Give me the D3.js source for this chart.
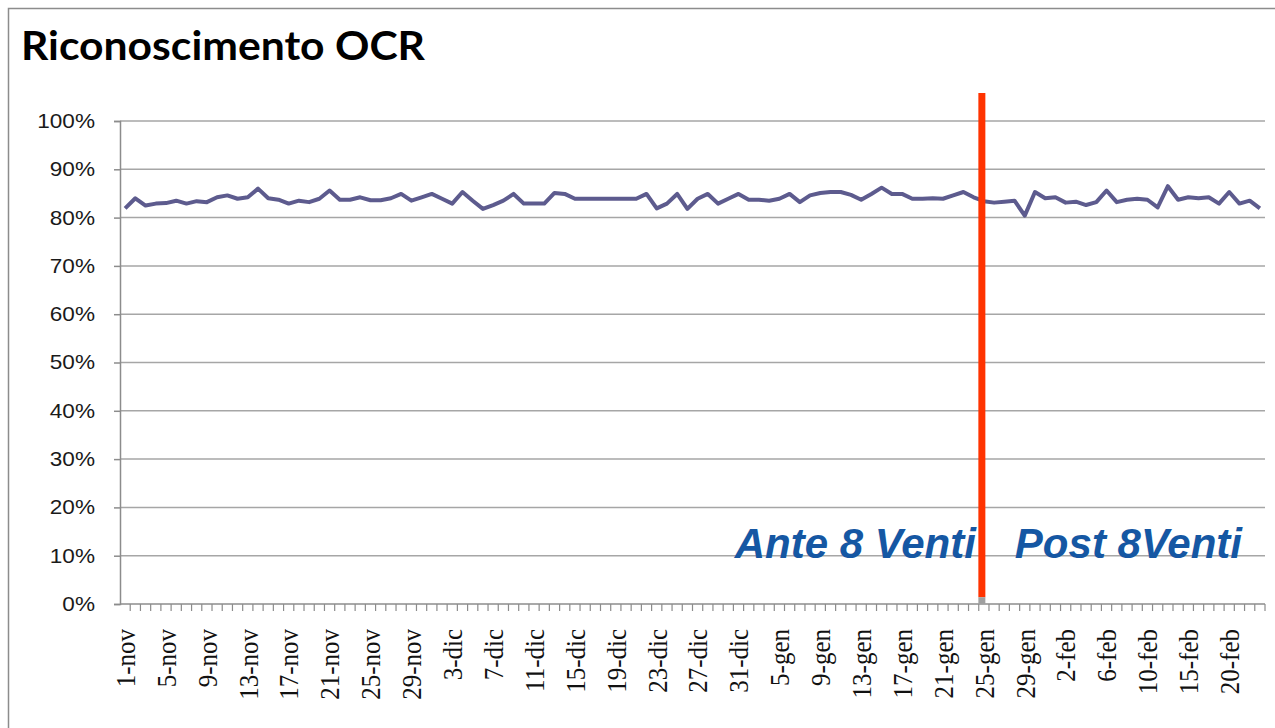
<!DOCTYPE html>
<html>
<head>
<meta charset="utf-8">
<script src="https://cdn.jsdelivr.net/npm/d3@7"></script>
<style>
  body { margin: 0; background: #fff; }
  svg { display: block; }
</style>
</head>
<body>
<svg id="chart"></svg>
<script>
// dates on the x axis (one per data point)
const categories = [
  "1-nov","2-nov","3-nov","4-nov","5-nov","6-nov","7-nov","8-nov","9-nov","10-nov",
  "11-nov","12-nov","13-nov","14-nov","15-nov","16-nov","17-nov","18-nov","19-nov","20-nov",
  "21-nov","22-nov","23-nov","24-nov","25-nov","26-nov","27-nov","28-nov","29-nov","30-nov",
  "1-dic","2-dic","3-dic","4-dic","5-dic","6-dic","7-dic","8-dic","9-dic","10-dic",
  "11-dic","12-dic","13-dic","14-dic","15-dic","16-dic","17-dic","18-dic","19-dic","20-dic",
  "21-dic","22-dic","23-dic","24-dic","25-dic","26-dic","27-dic","28-dic","29-dic","30-dic",
  "31-dic","2-gen","3-gen","4-gen","5-gen","6-gen","7-gen","8-gen","9-gen","10-gen",
  "11-gen","12-gen","13-gen","14-gen","15-gen","16-gen","17-gen","18-gen","19-gen","20-gen",
  "21-gen","22-gen","23-gen","24-gen","25-gen","26-gen","27-gen","28-gen","29-gen","30-gen",
  "31-gen","1-feb","2-feb","3-feb","4-feb","5-feb","6-feb","7-feb","8-feb","9-feb",
  "10-feb","11-feb","12-feb","14-feb","15-feb","16-feb","18-feb","19-feb","20-feb","21-feb",
  "22-feb","23-feb"
];

// OCR recognition rate, percent
const values = [
  81.9, 84.0, 82.5, 82.9, 83.0, 83.5, 82.9, 83.4, 83.2, 84.2,
  84.6, 83.9, 84.2, 86.0, 84.0, 83.7, 82.9, 83.5, 83.2, 83.9,
  85.6, 83.7, 83.7, 84.2, 83.6, 83.6, 84.0, 84.9, 83.5, 84.2,
  84.9, 83.9, 82.9, 85.3, 83.5, 81.8, 82.6, 83.5, 84.9, 82.9,
  82.9, 82.9, 85.1, 84.9, 83.9, 83.9, 83.9, 83.9, 83.9, 83.9,
  83.9, 84.9, 81.9, 82.9, 84.9, 81.8, 83.9, 84.9, 82.9, 83.9,
  84.9, 83.7, 83.7, 83.5, 83.9, 84.9, 83.2, 84.6, 85.1, 85.3,
  85.3, 84.7, 83.7, 84.9, 86.2, 84.9, 84.9, 83.9, 83.9, 84.0,
  83.9, 84.6, 85.3, 84.2, 83.4, 83.1, 83.3, 83.5, 80.4, 85.3,
  84.0, 84.2, 83.1, 83.3, 82.6, 83.2, 85.6, 83.2, 83.7, 83.9,
  83.7, 82.1, 86.5, 83.7, 84.2, 84.0, 84.2, 82.9, 85.3, 82.9,
  83.5, 81.9
];

const tickLabels = [
  "1-nov","5-nov","9-nov","13-nov","17-nov","21-nov","25-nov","29-nov",
  "3-dic","7-dic","11-dic","15-dic","19-dic","23-dic","27-dic","31-dic",
  "5-gen","9-gen","13-gen","17-gen","21-gen","25-gen","29-gen",
  "2-feb","6-feb","10-feb","15-feb","20-feb"
];

const yTicks = [0, 10, 20, 30, 40, 50, 60, 70, 80, 90, 100];

const splitDate = "25-gen";
const splitLabels = ["Ante 8 Venti", "Post 8Venti"];

const width = 1275;
const height = 728;
const margin = { top: 121, right: 10, bottom: 124, left: 120 };

const svg = d3.select("#chart")
  .attr("width", width)
  .attr("height", height);

svg.append("rect")
  .attr("width", width)
  .attr("height", height)
  .attr("fill", "#fff");

// outer frame
svg.append("rect")
  .attr("x", 8.5)
  .attr("y", 8.5)
  .attr("width", width)
  .attr("height", height)
  .attr("fill", "none")
  .attr("stroke", "#8c8c8c")
  .attr("stroke-width", 1.5);

svg.append("text")
  .attr("x", 21)
  .attr("y", 60)
  .attr("font-family", "Lato, 'Open Sans', sans-serif")
  .attr("font-weight", "bold")
  .attr("font-size", 41)
  .attr("textLength", 404)
  .attr("lengthAdjust", "spacingAndGlyphs")
  .attr("fill", "#000")
  .text("Riconoscimento OCR");

var x = d3.scaleBand()
  .domain(categories)
  .range([margin.left, width - margin.right]);

var y = d3.scaleLinear()
  .domain([0, 100])
  .range([height - margin.bottom, margin.top]);

const cx = d => x(d) + x.bandwidth() / 2;

// horizontal gridlines
svg.append("g")
  .selectAll("line")
  .data(yTicks.filter(d => d > 0))
  .join("line")
  .attr("x1", margin.left)
  .attr("x2", width - margin.right)
  .attr("y1", d => y(d))
  .attr("y2", d => y(d))
  .attr("stroke", "#a6a6a6")
  .attr("stroke-width", 1.5);

// y axis
var yAxis = svg.append("g")
  .attr("transform", "translate(" + margin.left + ",0)")
  .call(d3.axisLeft(y).tickValues(yTicks).tickSize(6).tickFormat(d => d + "%"));

yAxis.select(".domain").attr("stroke", "#8c8c8c").attr("stroke-width", 1.5);
yAxis.selectAll(".tick line").attr("stroke", "#8c8c8c").attr("stroke-width", 1.5);
// the source picture is a bit stretched sideways, so widen the labels
yAxis.selectAll(".tick text")
  .attr("x", -25 / 1.13)
  .attr("transform", "scale(1.13,1)")
  .attr("font-family", "'Liberation Sans', Arial, sans-serif")
  .attr("font-size", 20)
  .attr("fill", "#1a1a1a");

// x axis: baseline + minor ticks at category boundaries
var xAxis = svg.append("g");

xAxis.append("line")
  .attr("x1", margin.left)
  .attr("x2", width - margin.right)
  .attr("y1", y(0))
  .attr("y2", y(0))
  .attr("stroke", "#8c8c8c")
  .attr("stroke-width", 1.5);

xAxis.selectAll(".minor")
  .data(categories)
  .join("line")
  .attr("class", "minor")
  .attr("x1", d => x(d) + x.bandwidth())
  .attr("x2", d => x(d) + x.bandwidth())
  .attr("y1", y(0))
  .attr("y2", y(0) + 7)
  .attr("stroke", "#8c8c8c")
  .attr("stroke-width", 1.2);

xAxis.selectAll(".lbl")
  .data(tickLabels)
  .join("text")
  .attr("class", "lbl")
  .attr("transform", d => "translate(" + cx(d) + "," + (y(0) + 25) + ") rotate(-90) scale(1,1.12)")
  .attr("dy", "0.35em")
  .attr("text-anchor", "end")
  .attr("font-family", "'Liberation Serif', 'Times New Roman', serif")
  .attr("font-size", 25)
  .attr("fill", "#111")
  .text(d => d);

// data line
svg.append("path")
  .datum(values)
  .attr("fill", "none")
  .attr("stroke", "#5d5b8e")
  .attr("stroke-width", 4)
  .attr("stroke-linejoin", "round")
  .attr("d", d3.line()
    .x((d, i) => cx(categories[i]))
    .y(d => y(d)));

// split marker
const sx = cx(splitDate) - 2;
svg.append("line")
  .attr("x1", sx)
  .attr("x2", sx)
  .attr("y1", y(105.8))
  .attr("y2", y(1.4))
  .attr("stroke", "#ff3300")
  .attr("stroke-width", 7);

svg.append("line")
  .attr("x1", sx)
  .attr("x2", sx)
  .attr("y1", y(1.4))
  .attr("y2", y(0))
  .attr("stroke", "#a0a0a0")
  .attr("stroke-width", 7);

svg.append("text")
  .attr("x", sx - 6)
  .attr("y", y(9.6))
  .attr("text-anchor", "end")
  .attr("font-family", "'Liberation Sans', Arial, sans-serif")
  .attr("font-weight", "bold")
  .attr("font-style", "italic")
  .attr("font-size", 42)
  .attr("fill", "#1557a3")
  .text(splitLabels[0]);

svg.append("text")
  .attr("x", sx + 33)
  .attr("y", y(9.6))
  .attr("font-family", "'Liberation Sans', Arial, sans-serif")
  .attr("font-weight", "bold")
  .attr("font-style", "italic")
  .attr("font-size", 42)
  .attr("fill", "#1557a3")
  .text(splitLabels[1]);
</script>
</body>
</html>
